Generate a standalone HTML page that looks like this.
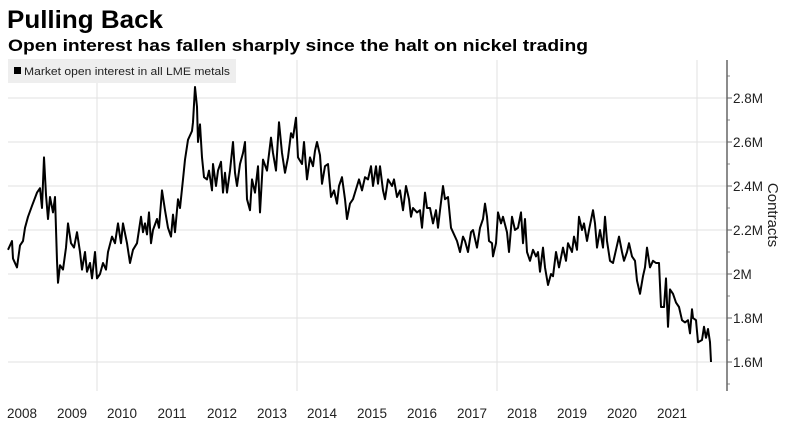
<!DOCTYPE html>
<html><head><meta charset="utf-8"><style>
body{margin:0;background:#fff;font-family:"Liberation Sans","DejaVu Sans",sans-serif;}
#wrap{position:relative;width:785px;height:423px;overflow:hidden;}
</style></head><body>
<div id="wrap">
<svg id="chart" width="785" height="423" viewBox="0 0 785 423">
  <text x="7" y="28" font-size="25" font-weight="bold" fill="#000" textLength="156" lengthAdjust="spacingAndGlyphs">Pulling Back</text>
  <text x="8" y="51" font-size="16.5" font-weight="bold" fill="#000" textLength="580" lengthAdjust="spacingAndGlyphs">Open interest has fallen sharply since the halt on nickel trading</text>
  <g id="grid"></g>
  <rect x="8" y="59" width="228" height="24" fill="#eeeeee"/>
  <rect x="14" y="67" width="7" height="7" fill="#000"/>
  <text x="24" y="75" font-size="11" fill="#222" textLength="206" lengthAdjust="spacingAndGlyphs">Market open interest in all LME metals</text>
  <g id="axes"></g>
  <path id="line" fill="none" stroke="#000" stroke-width="2" stroke-linejoin="round"/>
  <text transform="translate(768,215) rotate(90)" text-anchor="middle" font-size="15" fill="#222">Contracts</text>
</svg>
</div>
<script>
const dates=[2008.22,2008.30,2008.32,2008.40,2008.46,2008.52,2008.56,2008.62,2008.70,2008.80,2008.86,2008.90,2008.94,2008.98,
2009.02,2009.06,2009.12,2009.16,2009.20,2009.22,2009.26,2009.32,2009.38,2009.42,2009.48,2009.54,2009.60,2009.66,2009.70,2009.76,2009.80,2009.86,2009.90,2009.96,
2010.00,2010.06,2010.12,2010.18,2010.22,2010.30,2010.36,2010.42,2010.48,2010.52,2010.60,2010.66,2010.72,2010.80,2010.88,2010.92,2010.96,
2011.00,2011.04,2011.08,2011.12,2011.20,2011.24,2011.30,2011.36,2011.42,2011.48,2011.52,2011.56,2011.62,2011.66,2011.72,2011.76,2011.82,2011.90,2011.92,2011.96,
2012.00,2012.02,2012.06,2012.10,2012.14,2012.20,2012.24,2012.30,2012.32,2012.38,2012.42,2012.48,2012.52,2012.56,2012.60,2012.66,2012.72,2012.76,2012.80,2012.86,2012.92,2012.96,
2013.00,2013.06,2013.10,2013.16,2013.22,2013.26,2013.32,2013.40,2013.48,2013.52,2013.58,2013.64,2013.70,2013.76,2013.82,2013.88,2013.92,2013.98,
2014.02,2014.10,2014.14,2014.20,2014.26,2014.32,2014.36,2014.40,2014.46,2014.50,2014.56,2014.62,2014.68,2014.74,2014.80,2014.84,2014.90,2014.96,
2015.00,2015.06,2015.12,2015.20,2015.24,2015.30,2015.36,2015.42,2015.48,2015.52,2015.58,2015.62,2015.66,2015.72,2015.76,2015.82,2015.90,2015.94,
2016.00,2016.06,2016.12,2016.18,2016.24,2016.28,2016.32,2016.40,2016.46,2016.50,2016.56,2016.60,2016.66,2016.72,2016.78,2016.82,2016.86,2016.92,2016.96,
2017.02,2017.08,2017.12,2017.20,2017.26,2017.32,2017.36,2017.42,2017.48,2017.52,2017.60,2017.66,2017.72,2017.76,2017.80,2017.84,2017.90,2017.92,2017.98,
2018.02,2018.08,2018.12,2018.20,2018.24,2018.30,2018.36,2018.42,2018.48,2018.52,2018.56,2018.60,2018.66,2018.72,2018.78,2018.82,2018.86,2018.92,2018.96,
2019.02,2019.08,2019.12,2019.18,2019.24,2019.32,2019.38,2019.42,2019.50,2019.54,2019.60,2019.64,2019.70,2019.74,2019.80,2019.84,2019.92,2019.96,
2020.00,2020.06,2020.12,2020.16,2020.20,2020.26,2020.32,2020.38,2020.44,2020.50,2020.54,2020.60,2020.64,2020.70,2020.76,2020.80,2020.86,2020.92,2020.96,
2021.00,2021.06,2021.12,2021.18,2021.24,2021.28,2021.34,2021.38,2021.42,2021.46,2021.52,2021.58,2021.64,2021.70,2021.76,2021.82,2021.86,2021.90,2021.92,2021.98,
2022.02,2022.10,2022.14,2022.18,2022.22,2022.26,2022.28];
const values=[2.11,2.15,2.07,2.03,2.13,2.15,2.21,2.26,2.31,2.37,2.39,2.30,2.53,2.36,
2.25,2.35,2.28,2.35,2.06,1.96,2.04,2.02,2.12,2.23,2.14,2.12,2.19,2.10,2.02,2.10,2.01,2.05,1.98,2.10,
1.98,2.00,2.05,2.02,2.10,2.17,2.14,2.23,2.14,2.23,2.14,2.05,2.11,2.14,2.26,2.19,2.23,
2.18,2.28,2.14,2.20,2.25,2.21,2.38,2.29,2.21,2.17,2.27,2.19,2.34,2.30,2.43,2.52,2.61,2.65,2.69,2.85,
2.76,2.60,2.68,2.53,2.44,2.43,2.47,2.38,2.50,2.40,2.47,2.51,2.37,2.46,2.37,2.47,2.60,2.46,2.40,2.50,2.55,2.60,
2.34,2.29,2.43,2.37,2.49,2.28,2.52,2.47,2.62,2.55,2.47,2.69,2.55,2.46,2.53,2.64,2.62,2.71,
2.53,2.50,2.60,2.43,2.53,2.49,2.56,2.60,2.54,2.41,2.49,2.50,2.35,2.38,2.32,2.40,2.44,2.34,
2.25,2.32,2.34,2.40,2.43,2.38,2.44,2.43,2.49,2.40,2.49,2.41,2.49,2.38,2.34,2.43,2.40,2.43,
2.35,2.38,2.29,2.40,2.34,2.26,2.30,2.28,2.29,2.21,2.37,2.30,2.30,2.23,2.29,2.21,2.29,2.40,2.34,
2.35,2.21,2.19,2.15,2.10,2.17,2.15,2.10,2.19,2.20,2.12,2.21,2.25,2.32,2.26,2.15,2.14,2.08,2.14,
2.28,2.23,2.26,2.19,2.10,2.26,2.20,2.21,2.28,2.14,2.25,2.10,2.06,2.11,2.08,2.10,2.01,2.12,2.03,
1.95,2.00,1.99,2.10,2.03,2.12,2.06,2.14,2.10,2.17,2.11,2.26,2.20,2.23,2.15,2.20,2.29,2.23,
2.12,2.20,2.12,2.26,2.15,2.06,2.05,2.11,2.17,2.10,2.06,2.10,2.14,2.08,2.06,1.97,1.91,1.99,2.03,
2.12,2.03,2.06,2.05,2.05,1.85,1.85,1.98,1.76,1.93,1.91,1.87,1.85,1.79,1.78,1.79,1.73,1.84,1.80,1.79,
1.69,1.70,1.76,1.71,1.75,1.69,1.60];
const yTicks=[1.6,1.8,2.0,2.2,2.4,2.6,2.8];
const yTickLabels=["1.6M","1.8M","2M","2.2M","2.4M","2.6M","2.8M"];
const yMinorTicks=[1.5,1.7,1.9,2.1,2.3,2.5,2.7,2.9];
const yearLabels=[2008,2009,2010,2011,2012,2013,2014,2015,2016,2017,2018,2019,2020,2021];
const xGridYears=[2010,2014,2018,2022];

const NS="http://www.w3.org/2000/svg";
function xs(t){return -3+(t-2008)*50;}
function ys(v){return 362-(v-1.6)*220;}
const AX=727,PL=8,TOP=60,BOT=391;
function mk(tag,attrs,parent){const e=document.createElementNS(NS,tag);for(const k in attrs)e.setAttribute(k,attrs[k]);parent.appendChild(e);return e;}
const grid=document.getElementById('grid'),axes=document.getElementById('axes');
yTicks.forEach((v,i)=>{
  const l=mk('line',{x1:PL,x2:AX,y1:ys(v),y2:ys(v),stroke:'#e2e2e2','stroke-width':1},grid);
  
  
  const tk=mk('line',{x1:AX,x2:AX+5,y1:ys(v),y2:ys(v),stroke:'#666','stroke-width':1},axes);
  
  
  const tx=mk('text',{x:AX+6,y:ys(v)+5,'font-size':13.5,fill:'#222'},axes);
  tx.textContent=yTickLabels[i];
  
  
});
yMinorTicks.forEach(v=>{
  const tk=mk('line',{x1:AX,x2:AX+3,y1:ys(v),y2:ys(v),stroke:'#888','stroke-width':1},axes);
  
  
});
xGridYears.forEach(t=>{
  const l=mk('line',{x1:xs(t),x2:xs(t),y1:TOP,y2:BOT,stroke:'#e2e2e2','stroke-width':1},grid);
  
  
});
const ax=mk('line',{x1:AX,x2:AX,y1:TOP,y2:BOT,stroke:'#666','stroke-width':1.5},axes);


yearLabels.forEach(yr=>{
  const tx=mk('text',{x:xs(yr+0.5),y:418,'font-size':13.5,fill:'#222','text-anchor':'middle'},axes);
  tx.textContent=String(yr);
  
  
});
let d='';
dates.forEach((t,i)=>{d+=(i?'L':'M')+xs(t).toFixed(1)+' '+ys(values[i]).toFixed(1);});
document.getElementById('line').setAttribute('d',d);
</script>
</body></html>
